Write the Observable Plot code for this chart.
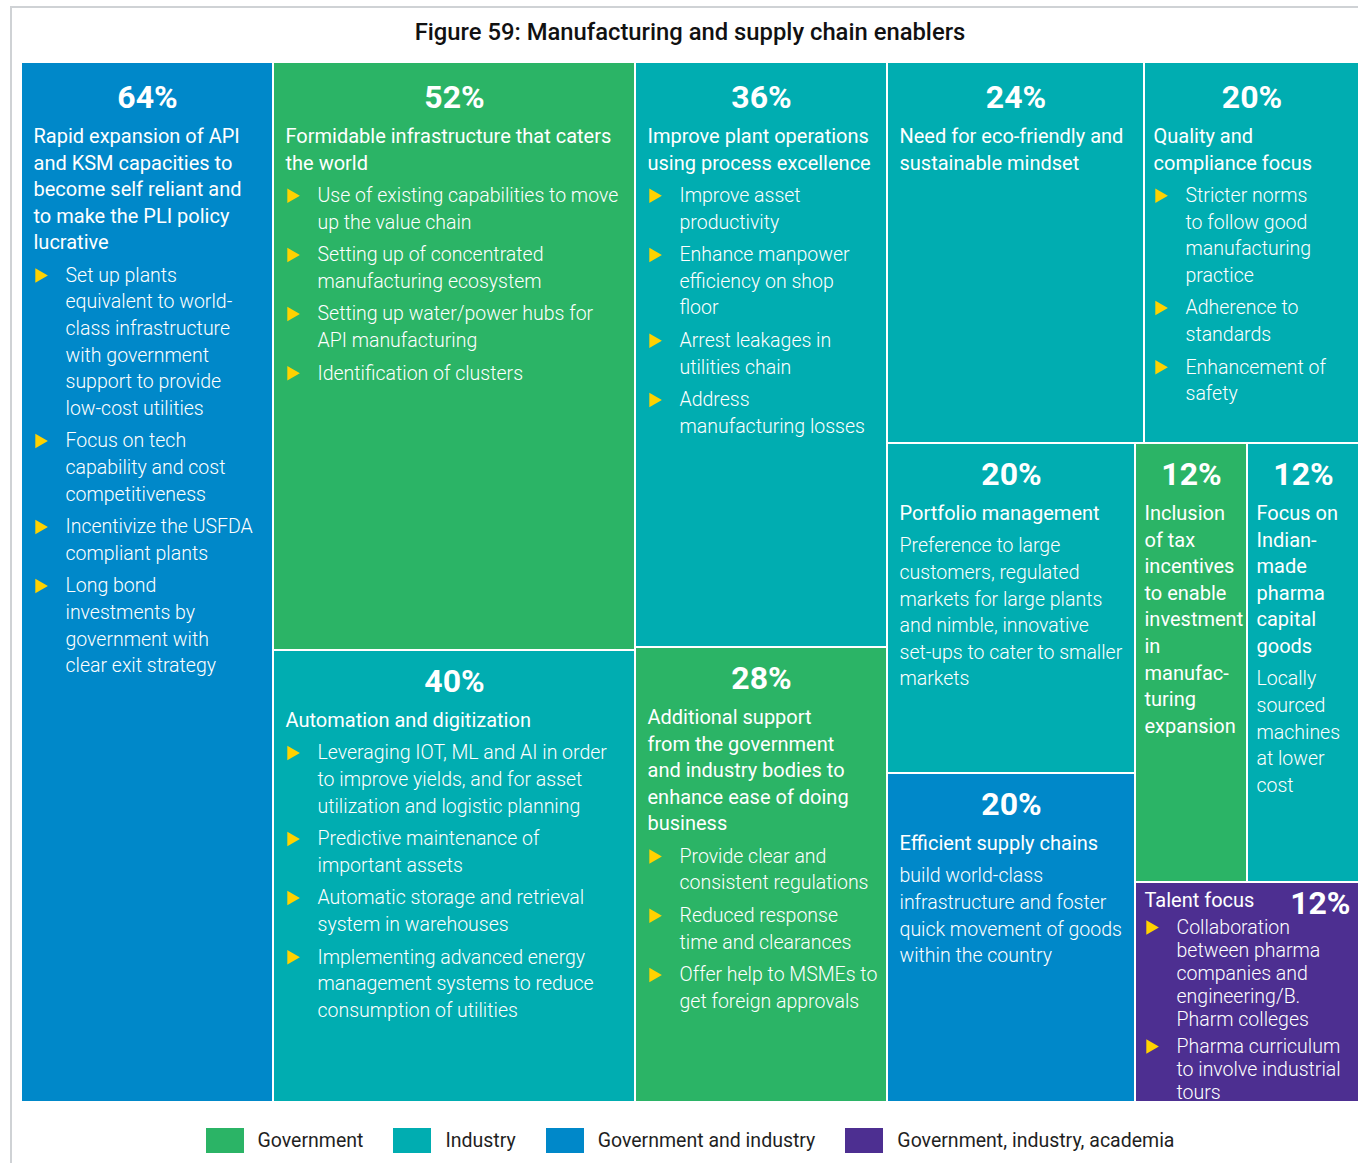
<!DOCTYPE html>
<html>
<head>
<meta charset="utf-8">
<script src="https://cdn.jsdelivr.net/npm/d3@7"></script>
<script src="https://cdn.jsdelivr.net/npm/@observablehq/plot@0.6"></script>
<style>
html, body { margin: 0; padding: 0; background: #fff; }
#page { position: relative; width: 1358px; height: 1163px; overflow: hidden; font-family: Roboto, "Noto Sans", sans-serif; }
#frame { position: absolute; left: 10px; top: 6px; width: 1420px; height: 1220px; border: 2px solid #cfd2d5; box-sizing: border-box; }
#title { position: absolute; left: 22px; width: 1336px; top: 17px; text-align: center; font-size: 23.8px; font-weight: 500; color: #111; line-height: 30px; }
#chart { position: absolute; left: 0; top: 63px; }
#legend { position: absolute; left: 22px; width: 1336px; top: 1128px; display: flex; justify-content: center; gap: 30px; }
.item { display: flex; align-items: center; gap: 14px; font-size: 19.5px; color: #1f1f1f; line-height: 25px; }
.sw { width: 38px; height: 25px; }
</style>
</head>
<body>
<div id="page">
  <div id="frame"></div>
  <div id="title">Figure 59: Manufacturing and supply chain enablers</div>
  <div id="chart"></div>
  <div id="legend"></div>
</div>
<script>
// ---- data ----
const groups = ["Government", "Industry", "Government and industry", "Government, industry, academia"];
const groupColors = ["#2BB466", "#00ADB1", "#0088C9", "#4D2F91"];

const shares = [64, 52, 40, 36, 28, 24, 20, 20, 20, 12, 12, 12];
const owners = [
  "Government and industry", "Government", "Industry", "Industry", "Government",
  "Industry", "Industry", "Industry", "Government and industry",
  "Government", "Industry", "Government, industry, academia"
];
const headings = [
  "Rapid expansion of API\nand KSM capacities to\nbecome self reliant and\nto make the PLI policy\nlucrative",
  "Formidable infrastructure that caters\nthe world",
  "Automation and digitization",
  "Improve plant operations\nusing process excellence",
  "Additional support\nfrom the government\nand industry bodies to\nenhance ease of doing\nbusiness",
  "Need for eco-friendly and\nsustainable mindset",
  "Quality and\ncompliance focus",
  "Portfolio management",
  "Efficient supply chains",
  "Inclusion\nof tax\nincentives\nto enable\ninvestment\nin\nmanufac-\nturing\nexpansion",
  "Focus on\nIndian-\nmade\npharma\ncapital\ngoods",
  "Talent focus"
];
const notes = [
  "", "", "", "", "", "", "",
  "Preference to large\ncustomers, regulated\nmarkets for large plants\nand nimble, innovative\nset-ups to cater to smaller\nmarkets",
  "build world-class\ninfrastructure and foster\nquick movement of goods\nwithin the country",
  "",
  "Locally\nsourced\nmachines\nat lower\ncost",
  ""
];
const bullets = [
  ["Set up plants\nequivalent to world-\nclass infrastructure\nwith government\nsupport to provide\nlow-cost utilities",
   "Focus on tech\ncapability and cost\ncompetitiveness",
   "Incentivize the USFDA\ncompliant plants",
   "Long bond\ninvestments by\ngovernment with\nclear exit strategy"],
  ["Use of existing capabilities to move\nup the value chain",
   "Setting up of concentrated\nmanufacturing ecosystem",
   "Setting up water/power hubs for\nAPI manufacturing",
   "Identification of clusters"],
  ["Leveraging IOT, ML and AI in order\nto improve yields, and for asset\nutilization and logistic planning",
   "Predictive maintenance of\nimportant assets",
   "Automatic storage and retrieval\nsystem in warehouses",
   "Implementing advanced energy\nmanagement systems to reduce\nconsumption of utilities"],
  ["Improve asset\nproductivity",
   "Enhance manpower\nefficiency on shop\nfloor",
   "Arrest leakages in\nutilities chain",
   "Address\nmanufacturing losses"],
  ["Provide clear and\nconsistent regulations",
   "Reduced response\ntime and clearances",
   "Offer help to MSMEs to\nget foreign approvals"],
  [],
  ["Stricter norms\nto follow good\nmanufacturing\npractice",
   "Adherence to\nstandards",
   "Enhancement of\nsafety"],
  [], [], [], [],
  ["Collaboration\nbetween pharma\ncompanies and\nengineering/B.\nPharm colleges",
   "Pharma curriculum\nto involve industrial\ntours"]
];
// nesting of the cells (indices into shares)
const layoutTree = [0, [1, 2], [3, 4], [[5, 6], [[7, 8], [[9, 10], 11]]]];

// ---- layout ----
const W = 1336, H = 1038, LH = 26.6, GAP = 6;
const root = d3.hierarchy(layoutTree, d => Array.isArray(d) ? d : null)
  .sum(d => Array.isArray(d) ? 0 : shares[d]);
d3.treemap().tile(d3.treemapSliceDice).size([W, H]).paddingInner(2).round(true)(root);
const cells = root.leaves().map(l => ({i: l.data, x0: l.x0, x1: l.x1, y0: l.y0, y1: l.y1, owner: owners[l.data]}));

const pctC = [], pctR = [], heads = [], bodies = [], marks = [];
for (const c of cells) {
  const i = c.i, w = c.x1 - c.x0, h = c.y1 - c.y0;
  const pad = w < 240 ? 8 : 11;
  const hx = c.x0 + pad, bx = c.x0 + pad + 32, mx = c.x0 + pad + 6;
  const pct = shares[i] + "%";
  const bl = bullets[i];
  if (h < 260) {
    // compact cell: heading and share on the same first line
    const hy = c.y0 + 17;
    heads.push({x: hx, y: hy, text: headings[i]});
    pctR.push({x: c.x1 - 8, y: hy + 3, text: pct});
    let y = hy + 27;
    const nLines = d3.sum(bl, b => b.split("\n").length);
    const gap = 4;
    const lh = Math.min(LH, (c.y1 - 9 - y - gap * (bl.length - 1)) / (nLines - 1));
    for (const b of bl) {
      marks.push({x: mx, y});
      for (const t of b.split("\n")) { bodies.push({x: bx, y, text: t}); y += lh; }
      y += gap;
    }
    continue;
  }
  const py = c.y0 + (c.y0 < 1 ? 34 : 30);
  pctC.push({x: (c.x0 + c.x1) / 2, y: py, text: pct});
  let y = py + 39;
  for (const t of headings[i].split("\n")) { heads.push({x: hx, y, text: t}); y += LH; }
  y += GAP;
  if (notes[i]) {
    for (const t of notes[i].split("\n")) { bodies.push({x: hx, y, text: t}); y += LH; }
    y += GAP;
  }
  for (const b of bl) {
    marks.push({x: mx, y});
    for (const t of b.split("\n")) { bodies.push({x: bx, y, text: t}); y += LH; }
    y += GAP;
  }
}

const font = "Roboto";
const chart = Plot.plot({
  width: 1358,
  height: H,
  margin: 0,
  x: {domain: [0, W], range: [22, 22 + W], axis: null},
  y: {domain: [0, H], range: [0, H], axis: null},
  color: {domain: groups, range: groupColors},
  style: {background: "transparent", overflow: "visible"},
  marks: [
    Plot.rect(cells, {x1: "x0", x2: "x1", y1: "y0", y2: "y1", fill: "owner", inset: 0}),
    Plot.text(pctC, {x: "x", y: "y", text: "text", fill: "white", fontSize: 32, fontWeight: 700, fontFamily: font, textAnchor: "middle", lineAnchor: "middle"}),
    Plot.text(pctR, {x: "x", y: "y", text: "text", fill: "white", fontSize: 32, fontWeight: 700, fontFamily: font, textAnchor: "end", lineAnchor: "middle"}),
    Plot.text(heads, {x: "x", y: "y", text: "text", fill: "white", fontSize: 20, fontWeight: 400, fontFamily: font, textAnchor: "start", lineAnchor: "middle"}),
    Plot.text(bodies, {x: "x", y: "y", text: "text", fill: "white", fontSize: 19.5, fontWeight: 300, fontFamily: font, textAnchor: "start", lineAnchor: "middle"}),
    Plot.dot(marks, {x: "x", y: "y", symbol: "triangle", r: 5.4, rotate: 90, fill: "#FFD200", stroke: "none"})
  ]
});
document.getElementById("chart").appendChild(chart);

const legend = document.getElementById("legend");
groups.forEach((g, k) => {
  const item = document.createElement("div");
  item.className = "item";
  const sw = document.createElement("div");
  sw.className = "sw";
  sw.style.background = groupColors[k];
  const lab = document.createElement("span");
  lab.textContent = g;
  item.appendChild(sw);
  item.appendChild(lab);
  legend.appendChild(item);
});
</script>
</body>
</html>
